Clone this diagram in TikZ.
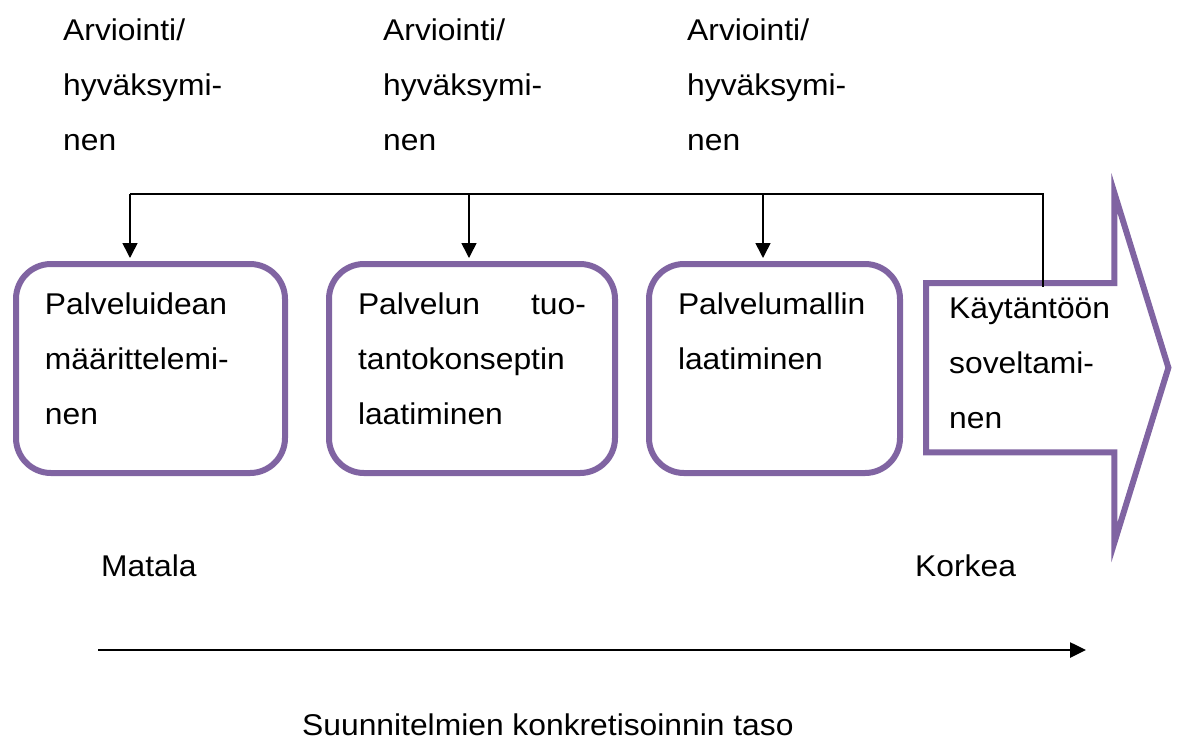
\documentclass[tikz,border=0pt]{standalone}
\usepackage{fontspec}
\setmainfont[FakeStretch=1.06]{Liberation Sans}
\usetikzlibrary{arrows.meta, calc}
\definecolor{stagepurple}{HTML}{8064A2}
\newcommand{\bodyfont}{\fontsize{30}{55}\selectfont}
\hfuzz=30pt
\exhyphenpenalty=10000
\tikzset{
    stage/.style = {draw=stagepurple, line width=6pt, rounded corners=35pt,
        inner xsep=29pt, inner ysep=29pt, anchor=north west, font=\bodyfont},
    zone/.style = {inner xsep=23pt, inner ysep=15pt, anchor=north west, font=\bodyfont},
    note/.style = {inner sep=0pt, anchor=base west, font=\bodyfont},
    wire/.style = {line width=1.6pt},
    feed/.style = {wire, -{Triangle[length=15pt,width=15pt]}, shorten >=3pt},
}

\begin{document}
\begin{tikzpicture}[x=1pt, y=-1pt]
\useasboundingbox (0,0) rectangle (1179,740);

\node[stage] (p1) at (13,261) {\parbox[t][151pt][t]{211pt}{\raggedright Palveluidean\\määrittelemi-\\nen}};
\node[stage] (p2) at (326,261) {\parbox[t][151pt][t]{228pt}{\raggedright Palvelun\hfill tuo-\\tantokonseptin\\laatiminen}};
\node[stage] (p3) at (646,261) {\parbox[t][151pt][t]{193pt}{\raggedright Palvelumallin\\laatiminen}};

\node[zone] (p4) at (926,283) {\parbox[t][139pt][t]{142pt}{\raggedright Käytäntöön\\soveltami-\\nen}};
\draw[draw=stagepurple, line width=6pt] (p4.north west) -- (p4.north east) -- ++(0,-90)
    -- ($(p4.east)+(54,0)$) -- ($(p4.south east)+(0,90)$) -- (p4.south east) -- (p4.south west) -- cycle;

\node[note] (a1) at (63,40) {\parbox[t]{180pt}{\raggedright Arviointi/\\hyväksymi-\\nen}};
\node[note] (a2) at (383,40) {\parbox[t]{180pt}{\raggedright Arviointi/\\hyväksymi-\\nen}};
\node[note] (a3) at (687,40) {\parbox[t]{180pt}{\raggedright Arviointi/\\hyväksymi-\\nen}};

\coordinate (j1) at (130,194);
\coordinate (j2) at (469,194);
\coordinate (j3) at (763,194);
\coordinate (j4) at (1043,194);
\draw[wire] (j1) -- (j4) -- ($(j4 |- p4.north)+(0,4)$);
\draw[feed] (j1) -- (j1 |- p1.north);
\draw[feed] (j2) -- (j2 |- p2.north);
\draw[feed] (j3) -- (j3 |- p3.north);

\node[note] (low) at (101,576) {Matala};
\node[note] (high) at (915,576) {Korkea};

\coordinate (lo) at (98,650);
\coordinate (hi) at (1086,650);
\draw[line width=2.6pt, -{Triangle[length=16pt,width=15pt]}] (lo) -- (hi);

\node[note] (axis) at (302,735) {Suunnitelmien konkretisoinnin taso};
\end{tikzpicture}
\end{document}
